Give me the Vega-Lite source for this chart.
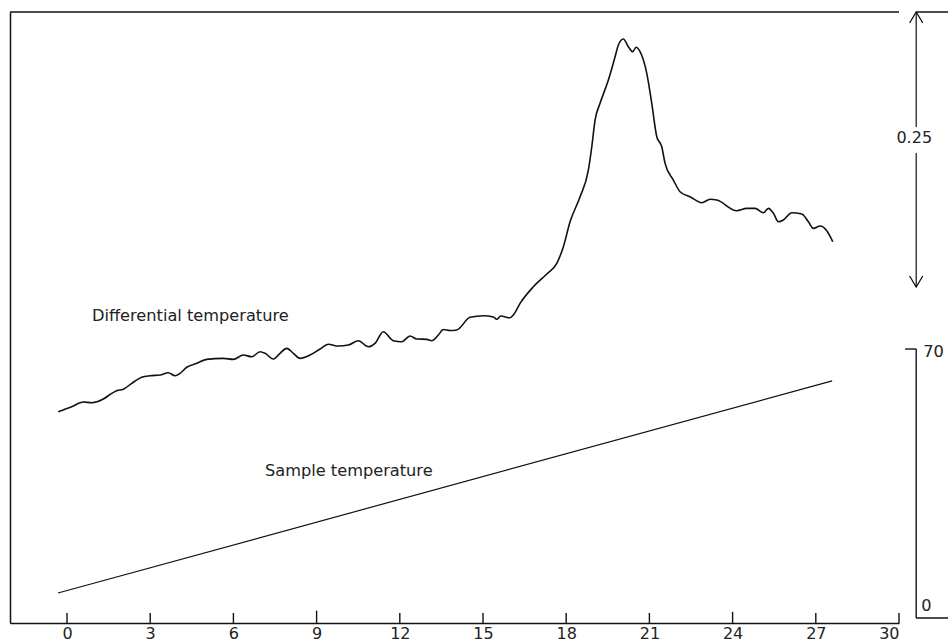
{
  "$schema": "https://vega.github.io/schema/vega-lite/v6.json",
  "width": 889,
  "height": 611,
  "autosize": {"type": "none"},
  "padding": {"left": 10, "top": 12, "right": 49, "bottom": 19},
  "background": "white",
  "config": {"view": {"stroke": null}, "font": "DejaVu Sans"},
  "datasets": {
    "diff": [
      {"t": -0.314, "d": 0.1921}, {"t": 0.169, "d": 0.1966}, {"t": 0.588, "d": 0.2009}, {"t": 0.891, "d": 0.2003},
      {"t": 1.309, "d": 0.2036}, {"t": 1.612, "d": 0.2088}, {"t": 1.792, "d": 0.2112}, {"t": 2.03, "d": 0.2125},
      {"t": 2.333, "d": 0.2179}, {"t": 2.694, "d": 0.2234}, {"t": 2.993, "d": 0.2248}, {"t": 3.354, "d": 0.2255},
      {"t": 3.653, "d": 0.2275}, {"t": 3.895, "d": 0.2248}, {"t": 4.075, "d": 0.227}, {"t": 4.317, "d": 0.2325},
      {"t": 4.677, "d": 0.2361}, {"t": 5.038, "d": 0.2397}, {"t": 5.636, "d": 0.2406}, {"t": 5.997, "d": 0.2397},
      {"t": 6.358, "d": 0.2436}, {"t": 6.661, "d": 0.2421}, {"t": 6.96, "d": 0.2466}, {"t": 7.14, "d": 0.2452},
      {"t": 7.44, "d": 0.24}, {"t": 7.681, "d": 0.2452}, {"t": 7.923, "d": 0.2497}, {"t": 8.161, "d": 0.2452},
      {"t": 8.402, "d": 0.2406}, {"t": 8.763, "d": 0.2436}, {"t": 9.124, "d": 0.2491}, {"t": 9.423, "d": 0.2534},
      {"t": 9.784, "d": 0.2518}, {"t": 10.144, "d": 0.2527}, {"t": 10.505, "d": 0.2566}, {"t": 10.866, "d": 0.2512},
      {"t": 11.107, "d": 0.2543}, {"t": 11.406, "d": 0.2648}, {"t": 11.767, "d": 0.2566}, {"t": 12.07, "d": 0.2557},
      {"t": 12.369, "d": 0.2609}, {"t": 12.611, "d": 0.2582}, {"t": 12.972, "d": 0.2579}, {"t": 13.152, "d": 0.2566},
      {"t": 13.39, "d": 0.2618}, {"t": 13.57, "d": 0.2668}, {"t": 13.812, "d": 0.2659}, {"t": 14.053, "d": 0.2664},
      {"t": 14.533, "d": 0.2779}, {"t": 15.013, "d": 0.2794}, {"t": 15.373, "d": 0.2782}, {"t": 15.496, "d": 0.2761},
      {"t": 15.64, "d": 0.2791}, {"t": 15.975, "d": 0.2775}, {"t": 16.094, "d": 0.28}, {"t": 16.336, "d": 0.2906},
      {"t": 16.816, "d": 0.3057}, {"t": 17.299, "d": 0.3173}, {"t": 17.66, "d": 0.327}, {"t": 17.898, "d": 0.3421},
      {"t": 18.139, "d": 0.3648}, {"t": 18.5, "d": 0.3875}, {"t": 18.799, "d": 0.4118}, {"t": 18.922, "d": 0.433},
      {"t": 19.041, "d": 0.4573}, {"t": 19.221, "d": 0.4725}, {"t": 19.52, "d": 0.4936}, {"t": 19.762, "d": 0.5148},
      {"t": 19.881, "d": 0.5255}, {"t": 20.061, "d": 0.5309}, {"t": 20.242, "d": 0.5239}, {"t": 20.4, "d": 0.5194},
      {"t": 20.519, "d": 0.5234}, {"t": 20.663, "d": 0.5194}, {"t": 20.905, "d": 0.4997}, {"t": 21.085, "d": 0.4725},
      {"t": 21.266, "d": 0.4421}, {"t": 21.446, "d": 0.433}, {"t": 21.565, "d": 0.4179}, {"t": 21.864, "d": 0.4027},
      {"t": 22.106, "d": 0.3921}, {"t": 22.466, "d": 0.3875}, {"t": 22.888, "d": 0.3821}, {"t": 23.188, "d": 0.3852},
      {"t": 23.429, "d": 0.3845}, {"t": 24.151, "d": 0.3748}, {"t": 24.511, "d": 0.377}, {"t": 24.811, "d": 0.377},
      {"t": 25.11, "d": 0.373}, {"t": 25.29, "d": 0.377}, {"t": 25.471, "d": 0.3725}, {"t": 25.651, "d": 0.3648},
      {"t": 25.831, "d": 0.3664}, {"t": 26.134, "d": 0.373}, {"t": 26.495, "d": 0.3718}, {"t": 26.733, "d": 0.3648},
      {"t": 26.913, "d": 0.3588}, {"t": 27.155, "d": 0.3609}, {"t": 27.396, "d": 0.3566}, {"t": 27.612, "d": 0.3466}
    ],
    "sample": [
      {"t": -0.325, "T": 6.5},
      {"t": 27.59, "T": 61.7}
    ],
    "framesA": [
      {"t": -2.056, "t2": 30.0, "T": 157.7, "T2": 157.7},
      {"t": 30.62, "t2": 31.8, "T": 157.7, "T2": 157.7},
      {"t": 30.22, "t2": 30.62, "T": 70, "T2": 70},
      {"t": 30.62, "t2": 30.62, "T": 70, "T2": 0},
      {"t": 30.62, "t2": 31.8, "T": 0, "T2": 0},
      {"t": 0, "t2": 0, "T": -1.3, "T2": 1.3},
      {"t": 3, "t2": 3, "T": -1.3, "T2": 1.3},
      {"t": 6, "t2": 6, "T": -1.3, "T2": 1.3},
      {"t": 9, "t2": 9, "T": -1.3, "T2": 1.9},
      {"t": 12, "t2": 12, "T": -1.3, "T2": 1.3},
      {"t": 15, "t2": 15, "T": -1.3, "T2": 1.3},
      {"t": 18, "t2": 18, "T": -1.3, "T2": 1.3},
      {"t": 21, "t2": 21, "T": -1.3, "T2": 1.3},
      {"t": 24, "t2": 24, "T": -1.3, "T2": 1.6},
      {"t": 27, "t2": 27, "T": -1.3, "T2": 1.3},
      {"t": 30, "t2": 30, "T": -1.3, "T2": 1.3}
    ],
    "framesD": [
      {"t": 30.62, "t2": 30.62, "d": 0.5555, "d2": 0.4509},
      {"t": 30.62, "t2": 30.62, "d": 0.4273, "d2": 0.3055}
    ],
    "arrows": [
      {"t": 30.62, "d": 0.5555, "dir": "up"},
      {"t": 30.62, "d": 0.3055, "dir": "down"}
    ],
    "labelsA": [
      {"t": 0.9, "T": 78.5, "label": "Differential temperature"},
      {"t": 7.14, "T": 38.3, "label": "Sample temperature"},
      {"t": 30.87, "T": 69.2, "label": "70"},
      {"t": 30.8, "T": 3.1, "label": "0"}
    ],
    "labelsD": [
      {"t": 30.55, "d": 0.4409, "label": "0.25"}
    ]
  },
  "encoding": {
    "x": {
      "field": "t",
      "type": "quantitative",
      "scale": {"domain": [-2.056, 30], "nice": false, "zero": false},
      "axis": {
        "orient": "bottom",
        "values": [0, 3, 6, 9, 12, 15, 18, 21, 24, 27, 30],
        "title": null,
        "grid": false,
        "domainColor": "#111",
        "domainWidth": 1.5,
        "ticks": false,
        "tickSize": 0,
        "labelPadding": 2,
        "labelFontSize": 16,
        "labelColor": "#222",
        "labelFont": "DejaVu Sans"
      }
    }
  },
  "layer": [
    {
      "data": {"name": "sample"},
      "mark": {"type": "line", "color": "#111", "strokeWidth": 1.2},
      "encoding": {
        "y": {
          "field": "T",
          "type": "quantitative",
          "scale": {"domain": [-1.3, 157.7], "nice": false, "zero": false},
          "axis": {"orient": "left", "domain": true, "domainColor": "#111", "domainWidth": 1.5, "ticks": false, "labels": false, "grid": false, "title": null}
        }
      }
    },
    {
      "data": {"name": "diff"},
      "mark": {"type": "line", "color": "#111", "strokeWidth": 1.6, "interpolate": "monotone"},
      "encoding": {
        "y": {"field": "d", "type": "quantitative", "scale": {"domain": [0, 0.5555], "nice": false, "zero": false}, "axis": null}
      }
    },
    {
      "data": {"name": "framesA"},
      "mark": {"type": "rule", "color": "#111", "strokeWidth": 1.4, "clip": false},
      "encoding": {
        "x2": {"field": "t2"},
        "y": {"field": "T", "type": "quantitative", "scale": {"domain": [-1.3, 157.7], "nice": false, "zero": false}, "axis": null},
        "y2": {"field": "T2"}
      }
    },
    {
      "data": {"name": "framesD"},
      "mark": {"type": "rule", "color": "#111", "strokeWidth": 1.2, "clip": false},
      "encoding": {
        "x2": {"field": "t2"},
        "y": {"field": "d", "type": "quantitative", "scale": {"domain": [0, 0.5555], "nice": false, "zero": false}, "axis": null},
        "y2": {"field": "d2"}
      }
    },
    {
      "data": {"name": "arrows"},
      "mark": {"type": "point", "filled": false, "color": "#111", "strokeWidth": 1.3, "size": 484, "opacity": 1},
      "encoding": {
        "y": {"field": "d", "type": "quantitative", "scale": {"domain": [0, 0.5555], "nice": false, "zero": false}, "axis": null},
        "shape": {
          "field": "dir",
          "type": "nominal",
          "scale": {"domain": ["up", "down"], "range": ["M-0.6,1L0,0L0.6,1", "M-0.6,-1L0,0L0.6,-1"]},
          "legend": null
        }
      }
    },
    {
      "data": {"name": "labelsA"},
      "mark": {"type": "text", "align": "left", "baseline": "middle", "fontSize": 16.2, "color": "#222", "font": "DejaVu Sans"},
      "encoding": {
        "y": {"field": "T", "type": "quantitative", "scale": {"domain": [-1.3, 157.7], "nice": false, "zero": false}, "axis": null},
        "text": {"field": "label"}
      }
    },
    {
      "data": {"name": "labelsD"},
      "mark": {"type": "text", "align": "center", "baseline": "middle", "fontSize": 16, "color": "#222", "font": "DejaVu Sans"},
      "encoding": {
        "y": {"field": "d", "type": "quantitative", "scale": {"domain": [0, 0.5555], "nice": false, "zero": false}, "axis": null},
        "text": {"field": "label"}
      }
    }
  ],
  "resolve": {"scale": {"y": "independent"}}
}
